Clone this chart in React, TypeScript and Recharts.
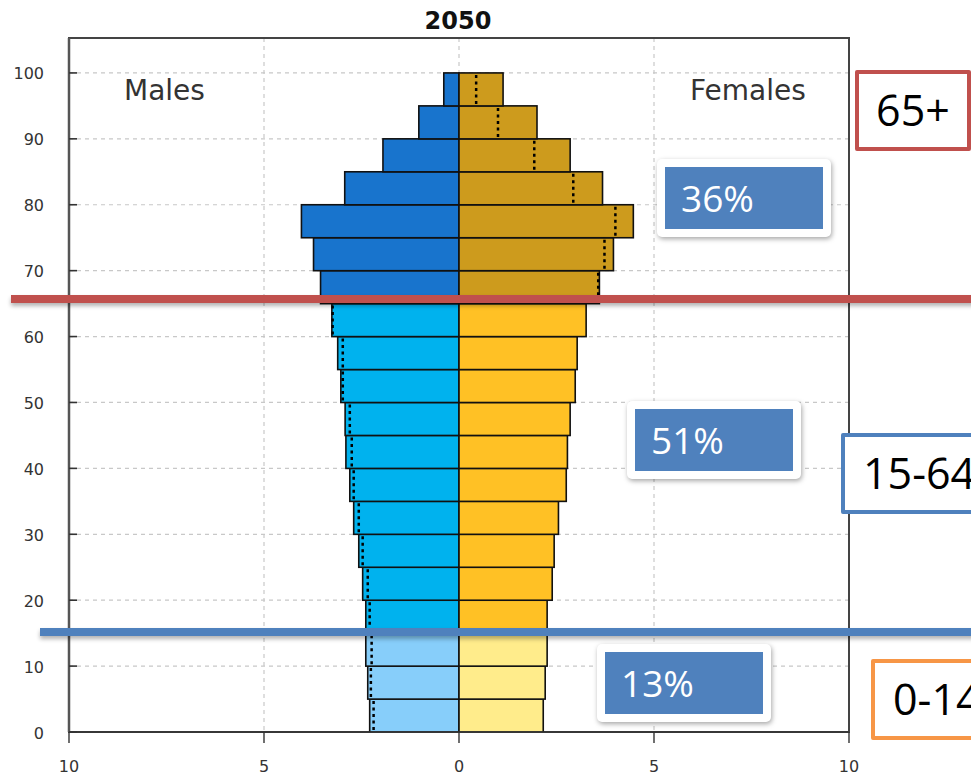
import React from 'react';
import { ComposedChart, Bar, XAxis, YAxis, CartesianGrid, ReferenceArea } from 'recharts';

const ageGroups = ['0-4', '5-9', '10-14', '15-19', '20-24', '25-29', '30-34', '35-39', '40-44', '45-49',
  '50-54', '55-59', '60-64', '65-69', '70-74', '75-79', '80-84', '85-89', '90-94', '95-99'];
const ageTicks = [0, 10, 20, 30, 40, 50, 60, 70, 80, 90, 100];
const popTicks = [-10, -5, 0, 5, 10];
const malesPct = [2.29, 2.34, 2.39, 2.39, 2.47, 2.57, 2.70, 2.80, 2.90, 2.92, 3.03, 3.11, 3.26, 3.55, 3.73, 4.04, 2.93, 1.95, 1.03, 0.39];
const femalesPct = [2.16, 2.21, 2.26, 2.26, 2.39, 2.44, 2.55, 2.75, 2.78, 2.85, 2.98, 3.03, 3.26, 3.60, 3.96, 4.47, 3.68, 2.85, 2.00, 1.13];
const malesRef: (number | null)[] = [2.19, 2.26, 2.24, 2.29, 2.34, 2.47, 2.57, 2.70, 2.75, 2.80, 2.98, 2.98, 3.24, null, null, null, null, null, null, null];
const femalesRef: (number | null)[] = [null, null, null, null, null, null, null, null, null, null, null, null, null, 3.57, 3.73, 4.01, 2.93, 1.93, 1.00, 0.44];

const AGE_TOP = 105.3;

const data = ageGroups.map((age, i) => {
  const [lo, hi] = age.split('-').map(Number);
  return {
    age,
    mid: (lo + hi + 1) / 2,
    male: -malesPct[i],
    female: femalesPct[i],
    maleRef: malesRef[i],
    femaleRef: femalesRef[i],
  };
});

const colorFor = (age: string, side: 'male' | 'female') => {
  const start = parseInt(age, 10);
  if (start < 15) return side === 'male' ? '#87CEFA' : '#FFEC8B';
  if (start < 65) return side === 'male' ? '#00B2EE' : '#FFC125';
  return side === 'male' ? '#1874CD' : '#CD9B1D';
};

const makeShape = (side: 'male' | 'female') => (props: any) => {
  const { x, y, width, height, payload } = props;
  if (x == null || width == null || !payload) return <g />;
  const left = Math.min(x, x + width);
  const w = Math.abs(width);
  const top = Math.min(y, y + height);
  const h = Math.abs(height);
  const val = side === 'male' ? -payload.male : payload.female;
  const ref = side === 'male' ? payload.maleRef : payload.femaleRef;
  let dot = null;
  if (ref != null && val > 0) {
    const ppu = w / val;
    const dx = side === 'male' ? left + w - ref * ppu : left + ref * ppu;
    dot = (
      <line x1={dx} x2={dx} y1={top + 2} y2={top + h - 1} stroke="#000" strokeWidth={2.5} strokeDasharray="3 3.5" />
    );
  }
  return (
    <g>
      <rect x={left} y={top} width={w} height={h} fill={colorFor(payload.age, side)} stroke="#111" strokeWidth={1.6} />
      {dot}
    </g>
  );
};

const FONT = 'DejaVu Sans';

const XTick = (props: any) => {
  const { x, y, payload } = props;
  return (
    <text x={x} y={y} dy={15} textAnchor="middle" fontFamily={FONT} fontSize={16} fill="#333">
      {Math.abs(payload.value)}
    </text>
  );
};

const YTick = (props: any) => {
  const { x, y, payload } = props;
  return (
    <g>
      <line x1={x + 25} x2={x + 33} y1={y} y2={y} stroke="#333" strokeWidth={1.6} />
      <text x={x} y={y} dy={6.5} textAnchor="end" fontFamily={FONT} fontSize={16} fill="#333">
        {payload.value}
      </text>
    </g>
  );
};

const PctBox = ({ left, top, text }: { left: number; top: number; text: string }) => (
  <div style={{
    position: 'absolute', left, top, width: 174, height: 78, boxSizing: 'border-box', padding: 8,
    background: '#fff', borderRadius: 5, boxShadow: '1px 2px 5px rgba(0,0,0,0.35)',
  }}>
    <div style={{
      width: '100%', height: '100%', background: '#4F81BD', color: '#fff',
      fontFamily: 'Open Sans', fontSize: 37, lineHeight: '62px', paddingLeft: 16, boxSizing: 'border-box',
    }}>{text}</div>
  </div>
);

const LabelBox = ({ left, top, width, color, text, padLeft }: any) => (
  <div style={{
    position: 'absolute', left, top, width, height: 81, boxSizing: 'border-box',
    border: `4px solid ${color}`, background: '#fff', borderRadius: 2,
    fontFamily: 'Open Sans', fontSize: 43, lineHeight: '72px', color: '#000',
    paddingLeft: padLeft, whiteSpace: 'nowrap', textAlign: padLeft ? 'left' : 'center',
  }}>{text}</div>
);

export default function App() {
  return (
    <div style={{ position: 'absolute', left: 0, top: 0, width: 971, height: 777, overflow: 'hidden', background: '#fff' }}>
      <ComposedChart
        width={971}
        height={777}
        data={data}
        layout="vertical"
        stackOffset="sign"
        barCategoryGap={0}
        barGap={0}
        margin={{ top: 38, right: 122, bottom: 10, left: 9 }}
      >
        <CartesianGrid stroke="#c8c8c8" strokeDasharray="4 4" strokeWidth={1.2} />
        <XAxis
          type="number"
          domain={[-10, 10]}
          ticks={popTicks}
          interval={0}
          height={35}
          tick={<XTick />}
          tickSize={11}
          tickMargin={14}
          axisLine={{ stroke: '#333', strokeWidth: 1.6 }}
          tickLine={{ stroke: '#333', strokeWidth: 1.4 }}
        />
        <YAxis
          type="number"
          dataKey="mid"
          domain={[0, AGE_TOP]}
          allowDataOverflow
          reversed
          ticks={ageTicks}
          interval={0}
          width={60}
          tick={<YTick />}
          tickSize={0}
          tickMargin={25}
          tickLine={false}
          axisLine={{ stroke: '#555', strokeWidth: 2.5 }}
        />
        <ReferenceArea x1={-10} x2={10} y1={0} y2={AGE_TOP} fill="none" fillOpacity={0} stroke="#444" strokeWidth={2} ifOverflow="visible" />
        <Bar dataKey="male" stackId="p" isAnimationActive={false} shape={makeShape('male')} />
        <Bar dataKey="female" stackId="p" isAnimationActive={false} shape={makeShape('female')} />
      </ComposedChart>

      <svg width={971} height={777} style={{ position: 'absolute', left: 0, top: 0, pointerEvents: 'none' }}>
        <text x={458} y={29} textAnchor="middle" fontFamily={FONT} fontWeight="bold" fontSize={24} fill="#111">2050</text>
        <text x={124} y={100} fontFamily={FONT} fontSize={28} fill="#333">Males</text>
        <text x={690} y={100} fontFamily={FONT} fontSize={28} fill="#333">Females</text>
      </svg>

      <div style={{ position: 'absolute', left: 11, top: 295, width: 970, height: 8, background: '#C0504D', boxShadow: '0 3px 4px rgba(0,0,0,0.3)' }} />
      <div style={{ position: 'absolute', left: 40, top: 628, width: 940, height: 8, background: '#4F81BD', boxShadow: '0 3px 4px rgba(0,0,0,0.3)' }} />

      <PctBox left={657} top={159} text="36%" />
      <PctBox left={627} top={401} text="51%" />
      <PctBox left={597} top={644} text="13%" />

      <LabelBox left={855} top={70} width={116} color="#C0504D" text="65+" />
      <LabelBox left={841} top={433} width={160} color="#4F81BD" text="15-64" padLeft={18} />
      <LabelBox left={871} top={659} width={130} color="#F79646" text="0-14" padLeft={18} />
    </div>
  );
}
